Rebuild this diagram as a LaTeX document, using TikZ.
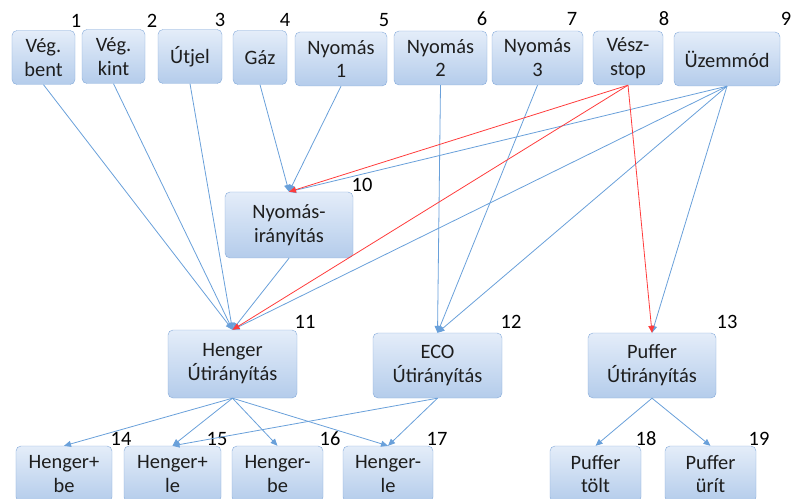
\documentclass[tikz,border=0pt]{standalone}
\usepackage{fontspec}
\setmainfont{Carlito}
\usetikzlibrary{arrows.meta}
\definecolor{BoxEdge}{RGB}{132,170,218}
\definecolor{BoxTop}{RGB}{228,237,249}
\definecolor{BoxBot}{RGB}{180,204,235}
\definecolor{LinkBlue}{RGB}{105,160,218}
\definecolor{LinkRed}{RGB}{255,60,60}
\definecolor{TextGray}{RGB}{30,30,30}

\begin{document}
\begin{tikzpicture}[x=1bp, y=-1bp, >={Triangle[length=7bp,width=6bp]},
    font=\fontsize{20.5}{24}\selectfont,
    box/.style={draw=BoxEdge, rounded corners=5bp, top color=BoxTop, bottom color=BoxBot, align=center, inner sep=1bp, text=TextGray, minimum height=54bp},
    num/.style={text=black, inner sep=0pt},
    link/.style={->, LinkBlue, line width=0.8bp},
    stop/.style={->, LinkRed, line width=0.8bp}
  ]
  \path[use as bounding box] (0,0) rectangle (791,499);
  \clip (0,0) rectangle (791,499);

  % inputs
  \node[box, minimum width=63bp] (vegbent) at (43.5,57.5) {Vég.\\bent};
  \node[box, minimum width=63bp] (vegkint) at (113.5,56.5) {Vég.\\kint};
  \node[box, minimum width=64bp] (utjel) at (190,56.5) {Útjel};
  \node[box, minimum width=54bp] (gaz) at (260,57.5) {Gáz};
  \node[box, minimum width=92bp] (ny1) at (341,59) {Nyomás\\1};
  \node[box, minimum width=93bp] (ny2) at (440.5,58) {Nyomás\\2};
  \node[box, minimum width=91bp] (ny3) at (537.5,58) {Nyomás\\3};
  \node[box, minimum width=70bp] (veszstop) at (628,58) {Vész-\\stop};
  \node[box, minimum width=106bp] (uzem) at (727,59) {Üzemmód};

  % controllers
  \node[box, minimum width=128bp, minimum height=66bp] (nyirany) at (289,225) {Nyomás-\\irányítás};
  \node[box, minimum width=129bp, minimum height=68bp] (henger) at (232.5,364) {Henger\\Útirányítás};
  \node[box, minimum width=129bp, minimum height=65bp] (eco) at (437.5,365.5) {ECO\\Útirányítás};
  \node[box, minimum width=128bp, minimum height=65bp] (puffer) at (652,365.5) {Puffer\\Útirányítás};

  % outputs
  \node[box, minimum width=96bp, minimum height=56bp] (hpbe) at (64,474) {Henger+\\be};
  \node[box, minimum width=97bp, minimum height=56bp] (hple) at (172.5,474) {Henger+\\le};
  \node[box, minimum width=91bp, minimum height=56bp] (hmbe) at (277.5,474) {Henger-\\be};
  \node[box, minimum width=90bp, minimum height=56bp] (hmle) at (388,474) {Henger-\\le};
  \node[box, minimum width=91bp, minimum height=56bp] (ptolt) at (595.5,474) {Puffer\\tölt};
  \node[box, minimum width=91bp, minimum height=56bp] (purit) at (710.5,474) {Puffer\\ürít};

  % numbers
  \node[num] (n1) at (76,21) {1};
  \node[num] (n2) at (152,21) {2};
  \node[num] (n3) at (220,20) {3};
  \node[num] (n4) at (285,20) {4};
  \node[num] (n5) at (384,20) {5};
  \node[num] (n6) at (482,19) {6};
  \node[num] (n7) at (572,19) {7};
  \node[num] (n8) at (664,19) {8};
  \node[num] (n9) at (786,19) {9};
  \node[num] (n10) at (362,185) {10};
  \node[num] (n11) at (305,322) {11};
  \node[num] (n12) at (511,322) {12};
  \node[num] (n13) at (727,322) {13};
  \node[num] (n14) at (121,439) {14};
  \node[num] (n15) at (217,439) {15};
  \node[num] (n16) at (330,439) {16};
  \node[num] (n17) at (437,439) {17};
  \node[num] (n18) at (646,439) {18};
  \node[num] (n19) at (759,439) {19};

  % blue links
  \draw[link] (vegbent.south) -- (henger.north);
  \draw[link] (vegkint.south) -- (henger.north);
  \draw[link] (utjel.south) -- (henger.north);
  \draw[link] (gaz.south) -- (nyirany.north);
  \draw[link] (ny1.south) -- (nyirany.north);
  \draw[link] (ny2.south) -- (eco.north);
  \draw[link] (ny3.south) -- (eco.north);
  \draw[link] (uzem.south) -- (nyirany.north);
  \draw[link] (uzem.south) -- (henger.north);
  \draw[link] (uzem.south) -- (eco.north);
  \draw[link] (uzem.south) -- (puffer.north);
  \draw[link] (nyirany.south) -- (henger.north);
  \draw[link] (henger.south) -- (hpbe.north);
  \draw[link] (henger.south) -- (hple.north);
  \draw[link] (henger.south) -- (hmbe.north);
  \draw[link] (henger.south) -- (hmle.north);
  \draw[link] (eco.south) -- (hple.north);
  \draw[link] (eco.south) -- (hmle.north);
  \draw[link] (puffer.south) -- (ptolt.north);
  \draw[link] (puffer.south) -- (purit.north);

  % emergency stop
  \draw[stop] (veszstop.south) -- (nyirany.north);
  \draw[stop] (veszstop.south) -- (henger.north);
  \draw[stop] (veszstop.south) -- (puffer.north);
\end{tikzpicture}
\end{document}
